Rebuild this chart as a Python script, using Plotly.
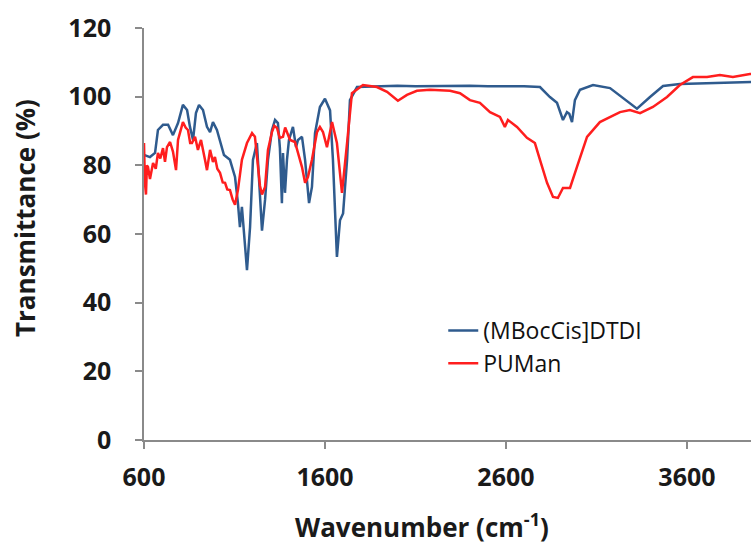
import plotly.graph_objects as go

# (MBocCis]DTDI spectrum
wn_dtdi = [600, 633, 661, 677, 705, 733, 760, 788, 815, 838, 854, 871, 887, 904, 926,
           948, 965, 981, 1003, 1020, 1042, 1075, 1103, 1119, 1130, 1141, 1152, 1169, 1186,
           1202, 1224, 1241, 1252, 1269, 1285, 1307, 1324, 1340, 1351, 1362, 1368, 1379,
           1390, 1401, 1423, 1440, 1451, 1473, 1490, 1512, 1528, 1545, 1572, 1600, 1628,
           1644, 1666, 1683, 1700, 1722, 1738, 1777, 1900, 2000, 2100, 2200, 2300, 2400,
           2500, 2600, 2700, 2788, 2843, 2882, 2915, 2937, 2950, 2965, 2981, 3009, 3081,
           3175, 3247, 3324, 3396, 3468, 3561, 3650, 3750, 3850, 3948, 4000]
t_dtdi = [83.0, 82.4, 83.6, 90.3, 91.8, 91.8, 88.8, 92.3, 97.6, 96.1, 91.2, 87.4, 95.2, 97.6, 96.1,
          91.2, 89.7, 92.6, 90.3, 87.4, 83.0, 81.6, 76.6, 69.0, 62.0, 67.9, 61.0, 49.5, 62.0,
          81.6, 86.5, 72.0, 61.0, 70.0, 81.6, 90.3, 93.2, 92.3, 85.0, 69.0, 83.6, 72.0,
          81.6, 87.4, 91.2, 85.3, 87.4, 88.3, 81.6, 69.0, 73.7, 89.4, 97.0, 99.4, 96.0,
          81.6, 53.3, 64.0, 66.0, 81.6, 99.0, 102.8, 103.0, 103.2, 103.0, 103.1, 103.0, 103.2,
          103.0, 103.1, 103.0, 102.8, 99.9, 98.2, 93.2, 95.5, 95.0, 92.6, 99.0, 102.0, 103.4,
          102.5, 99.6, 96.5, 99.9, 103.1, 103.7, 103.8, 104.0, 104.0, 104.3, 104.3]

# PUMan spectrum
wn_puman = [600, 605, 611, 616, 622, 633, 650, 665, 677, 690, 705, 716, 727, 744, 760, 777,
            788, 800, 815, 830, 843, 855, 865, 882, 898, 915, 926, 937, 948, 965, 981, 992,
            1005, 1020, 1035, 1048, 1060, 1075, 1090, 1103, 1119, 1141, 1169, 1197, 1213,
            1230, 1241, 1252, 1269, 1285, 1307, 1320, 1335, 1350, 1368, 1380, 1390, 1407,
            1434, 1451, 1473, 1490, 1506, 1528, 1556, 1572, 1589, 1611, 1639, 1666, 1694,
            1722, 1749, 1810, 1887, 1943, 2003, 2053, 2108, 2180, 2291, 2346, 2401, 2456,
            2512, 2567, 2594, 2611, 2661, 2716, 2760, 2788, 2827, 2860, 2887, 2915, 2954,
            2992, 3048, 3119, 3175, 3230, 3285, 3341, 3412, 3490, 3561, 3633, 3711, 3782,
            3854, 3948, 4000]
t_puman = [86.5, 75.0, 71.5, 80.0, 79.5, 76.0, 80.7, 79.0, 83.6, 82.0, 85.0, 81.0, 85.3, 86.8, 84.0, 78.6,
           87.4, 90.0, 92.6, 91.0, 90.3, 86.5, 86.5, 88.3, 84.5, 87.4, 84.0, 81.6, 78.6, 84.5, 81.0, 82.4,
           79.0, 77.8, 75.0, 74.9, 73.0, 72.8, 70.0, 68.5, 72.8, 81.6, 86.5, 89.4, 88.3,
           79.5, 74.0, 71.5, 73.7, 84.5, 89.7, 91.5, 90.9, 88.0, 88.3, 91.0, 89.7, 87.4,
           86.8, 83.6, 79.5, 74.9, 76.6, 81.6, 89.7, 91.2, 89.7, 85.3, 92.6, 86.5, 72.0,
           86.5, 101.0, 103.4, 102.8, 101.4, 98.8, 100.5, 101.7, 102.0, 101.7, 101.0, 99.0, 98.2,
           95.5, 94.1, 91.2, 93.2, 91.2, 88.0, 86.5, 81.6, 74.9, 70.8, 70.5, 73.4, 73.4,
           79.5, 88.3, 92.6, 94.1, 95.5, 96.1, 95.2, 97.0, 99.9, 103.4, 105.7, 105.7, 106.3,
           105.7, 106.6, 106.6]

x_ticks = [600, 1600, 2600, 3600]
y_ticks = [0, 20, 40, 60, 80, 100, 120]

fig = go.Figure()
fig.add_trace(go.Scatter(x=wn_dtdi, y=t_dtdi, mode="lines", name="(MBocCis]DTDI",
                         line=dict(color="#2F5B8E", width=2.5)))
fig.add_trace(go.Scatter(x=wn_puman, y=t_puman, mode="lines", name="PUMan",
                         line=dict(color="#FF1E1E", width=2.5)))

axis_col = "#8A8A8A"
tick_font = dict(family="Open Sans", size=25, color="#1a1a1a", weight="bold")
title_font = dict(family="Open Sans", size=26, color="#1a1a1a", weight="bold")

fig.update_xaxes(range=[600, 3954], tickvals=x_ticks, showgrid=False, zeroline=False,
                 showline=True, linecolor=axis_col, linewidth=1.5,
                 ticks="outside", ticklen=7, tickcolor=axis_col, tickwidth=1.5,
                 tickfont=tick_font, ticklabelstandoff=7)
fig.update_yaxes(range=[0, 120], tickvals=y_ticks, showgrid=False, zeroline=False,
                 showline=True, linecolor=axis_col, linewidth=1.5,
                 ticks="outside", ticklen=7, tickcolor=axis_col, tickwidth=1.5,
                 tickfont=tick_font, ticklabelstandoff=19)

fig.update_layout(
    width=751,
    height=545,
    autosize=False,
    margin=dict(l=144, r=0, t=28, b=105),
    plot_bgcolor="white",
    paper_bgcolor="white",
    legend=dict(x=0.493, y=0.318, xanchor="left", yanchor="top",
                font=dict(family="Open Sans", size=23, color="#111111"),
                bgcolor="rgba(0,0,0,0)", tracegroupgap=0),
    annotations=[
        dict(text="Wavenumber (cm<sup>-1</sup>)", xref="paper", yref="paper",
             x=(422 - 144) / 607, y=-(526 - 440) / 412, xanchor="center", yanchor="middle",
             showarrow=False, font=title_font),
        dict(text="Transmittance (%)", xref="paper", yref="paper",
             x=(25 - 144) / 607, y=(440 - 218) / 412, xanchor="center", yanchor="middle",
             textangle=-90, showarrow=False, font=title_font),
    ],
)

# drop the default page margin so the figure fills the window exactly
fig.write_html("out.html", config=dict(displayModeBar=False),
               post_script="document.body.style.margin = '0';")
